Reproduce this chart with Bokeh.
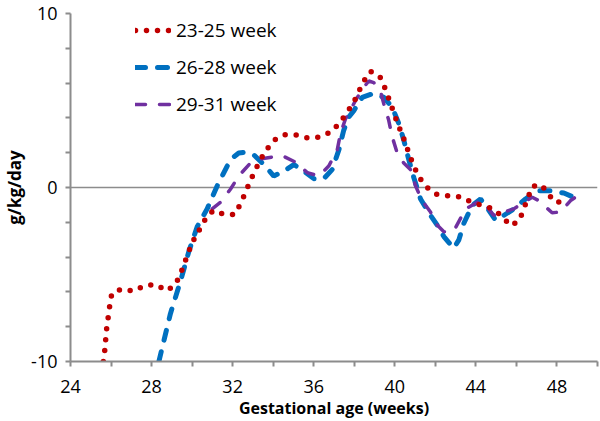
from bokeh.plotting import figure
from bokeh.models import Legend, LegendItem, FixedTicker, CustomJSTickFormatter
from bokeh.embed import file_html
from bokeh.resources import INLINE

# ---- data ----
x_23_25 = [25.62, 25.68, 25.73, 25.78, 25.86, 25.94, 26.04, 26.53, 27.11, 27.67, 28.23, 28.74,
           29.18, 29.43, 29.64, 29.84, 30.08, 30.38, 30.66, 31.04, 31.56, 32.08, 32.39, 32.85,
           33.09, 33.37, 33.65, 34.0, 34.57, 35.15, 35.73, 36.30, 36.86, 37.29, 37.62, 37.95,
           38.47, 38.80, 39.26, 39.49, 39.70, 40.10, 40.53, 40.72, 40.94, 41.18, 41.55, 42.02,
           42.58, 43.19, 43.73, 44.31, 44.88, 45.30, 45.74, 46.15, 46.36, 46.78, 47.24, 47.60,
           48.01, 48.50]
y_23_25 = [-10.0, -9.49, -8.81, -8.14, -7.46, -6.76, -6.08, -5.84, -5.95, -5.63, -5.58, -5.93,
           -5.58, -4.95, -4.29, -3.66, -3.01, -2.39, -1.81, -1.32, -1.53, -1.56, -0.94, 0.32,
           0.94, 1.60, 2.13, 2.69, 3.03, 3.01, 2.84, 2.90, 3.20, 3.73, 4.28, 4.84,
           6.12, 6.68, 6.38, 5.78, 5.12, 3.80, 2.54, 1.88, 1.23, 0.62, 0.04, -0.38,
           -0.47, -0.53, -0.81, -1.03, -1.23, -1.69, -2.20, -1.88, -1.23, 0.06, 0.15, -0.44,
           -0.89, -0.56]

x_26_28 = [28.36, 28.93, 29.43, 29.84, 30.25, 30.74, 31.24, 31.73, 31.98, 32.30, 32.55, 33.04,
           33.54, 34.03, 34.52, 35.02, 35.51, 36.0, 36.50, 36.91, 37.24, 37.48, 37.73, 37.98,
           38.39, 38.96, 39.46, 39.87, 40.20, 40.44, 40.69, 40.94, 41.27, 41.76, 42.09, 42.42,
           42.91, 43.16, 43.40, 43.82, 44.23, 44.59, 44.97, 45.38, 45.87, 46.45, 47.02, 47.68,
           48.34, 48.80]
y_26_28 = [-10.0, -7.25, -5.37, -3.67, -2.26, -1.23, 0.10, 1.23, 1.69, 1.98, 2.02, 1.88,
           1.32, 0.66, 0.94, 1.32, 0.94, 0.51, 0.51, 1.03, 2.16, 3.29, 4.05, 4.42,
           5.18, 5.41, 5.18, 4.62, 3.67, 2.73, 1.60, 0.56, -0.66, -1.60, -2.16, -2.82,
           -3.49, -3.01, -2.07, -1.03, -0.66, -1.23, -1.88, -1.60, -1.23, -0.66, -0.19, -0.19,
           -0.32, -0.55]

x_29_31 = [30.99, 31.40, 31.89, 32.30, 32.88, 33.37, 33.95, 34.52, 35.18, 35.68, 36.25, 36.74,
           37.16, 37.32, 37.57, 38.06, 38.39, 38.72, 38.96, 39.29, 39.46, 39.70, 39.87, 40.12,
           40.44, 40.77, 41.02, 41.35, 41.76, 42.09, 42.42, 42.91, 43.49, 44.23, 44.56, 44.88,
           45.38, 45.87, 46.36, 46.78, 47.10, 47.76, 48.17, 48.67, 48.91]
y_29_31 = [-1.23, -0.85, -0.10, 0.66, 1.41, 1.64, 1.75, 1.79, 1.41, 0.85, 0.66, 1.23,
           2.16, 3.11, 3.95, 4.99, 5.65, 6.12, 6.03, 5.55, 4.80, 3.86, 2.92, 1.98,
           1.41, 1.03, 0.10, -0.75, -1.41, -2.16, -2.54, -2.50, -1.23, -0.75, -1.13, -1.60,
           -1.41, -1.23, -0.85, -0.56, -0.75, -1.45, -1.41, -0.75, -0.56]

series_labels = ["23-25 week", "26-28 week", "29-31 week"]
x_major = [24, 28, 32, 36, 40, 44, 48]
x_minor = [26, 30, 34, 38, 42, 46, 50]
y_major = [-10, 0, 10]
y_minor = [-8, -6, -4, -2, 2, 4, 6, 8]

FONT = "Open Sans"
GRAY = "#8c8c8c"

p = figure(width=600, height=421, output_backend="svg", toolbar_location=None,
           x_range=(24, 50), y_range=(-10, 10),
           min_border_left=70, min_border_right=3, min_border_top=13, min_border_bottom=59)
p.outline_line_color = None
p.background_fill_color = "white"
p.border_fill_color = "white"

p.xgrid.visible = False
p.ygrid.ticker = FixedTicker(ticks=[0, 10])
p.ygrid.grid_line_color = GRAY
p.ygrid.grid_line_width = 1.3

fmt = CustomJSTickFormatter(code="return tick.toFixed(0);")
for ax in (p.xaxis[0], p.yaxis[0]):
    ax.axis_line_color = GRAY
    ax.axis_line_width = 2
    ax.major_tick_line_color = GRAY
    ax.minor_tick_line_color = GRAY
    ax.major_tick_line_width = 2
    ax.minor_tick_line_width = 2
    ax.major_tick_in = 0
    ax.major_tick_out = 5
    ax.minor_tick_in = 0
    ax.minor_tick_out = 5
    ax.major_label_text_font = FONT
    ax.major_label_text_font_size = "18px"
    ax.major_label_text_color = "black"
    ax.axis_label_text_font = FONT
    ax.axis_label_text_font_style = "bold"
    ax.axis_label_text_color = "black"
    ax.formatter = fmt

p.xaxis.ticker = FixedTicker(ticks=x_major, minor_ticks=x_minor)
p.yaxis.ticker = FixedTicker(ticks=y_major, minor_ticks=y_minor)
p.xaxis.axis_label = "Gestational age (weeks)"
p.yaxis.axis_label = "g/kg/day"
p.xaxis.axis_label_text_font_size = "16px"
p.yaxis.axis_label_text_font_size = "17px"
p.xaxis.major_label_standoff = 13
p.xaxis.axis_label_standoff = 1
p.yaxis.major_label_standoff = 8
p.yaxis.axis_label_standoff = 2

r_blue = p.line(x_26_28, y_26_28, line_color="#0070C0", line_width=5,
                line_dash="10 12", line_cap="round")
r_purple = p.line(x_29_31, y_29_31, line_color="#7030A0", line_width=3.5,
                  line_dash="10 14", line_cap="round")
r_red = p.line(x_23_25, y_23_25, line_color="#C00000", line_width=5.5,
               line_dash="0 11", line_cap="round")

legend = Legend(items=[LegendItem(label=series_labels[0], renderers=[r_red]),
                       LegendItem(label=series_labels[1], renderers=[r_blue]),
                       LegendItem(label=series_labels[2], renderers=[r_purple])],
                location=(65, 244))
legend.border_line_color = None
legend.background_fill_alpha = 0
legend.padding = 0
legend.margin = 0
legend.spacing = 11
legend.label_height = 22
legend.glyph_height = 22
legend.glyph_width = 36
legend.label_standoff = 5
legend.label_text_font = FONT
legend.label_text_font_size = "19px"
legend.label_text_color = "black"
p.add_layout(legend, "center")

open("out.html", "w").write(file_html(p, INLINE))
